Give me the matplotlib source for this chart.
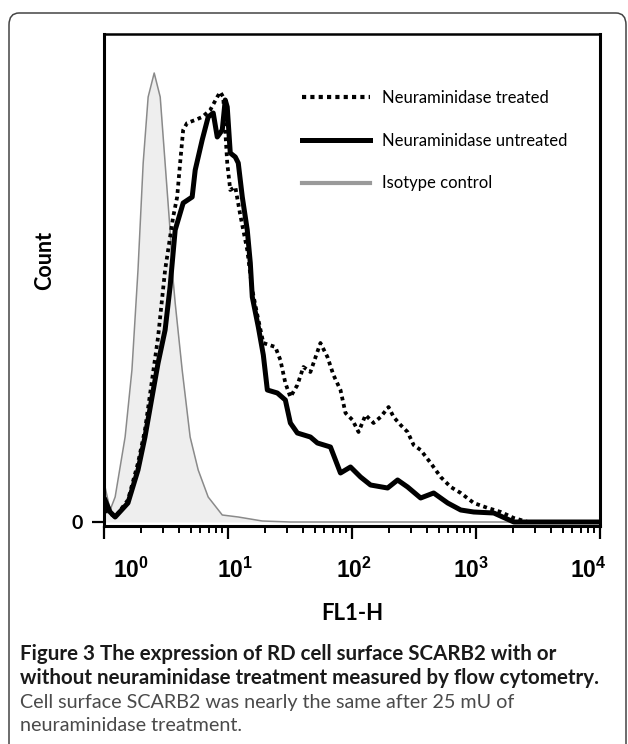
import matplotlib

matplotlib.use("Agg")
import matplotlib.pyplot as plt
import matplotlib.transforms as mtransforms
from matplotlib.lines import Line2D
from matplotlib.patches import FancyBboxPatch

# FL1-H channel values and event counts
iso_fl1 = [1.02, 1.12, 1.23, 1.48, 1.68, 1.88, 2.07, 2.27, 2.54, 2.84, 3.11, 3.41,
           3.61, 3.75, 4.27, 4.95, 5.75, 6.92, 8.99, 12.1, 18.9, 31.8, 10000]
iso_count = [35, 12, 25, 85, 152, 252, 359, 425, 449, 425, 359, 292,
             242, 219, 152, 85, 52, 25, 7, 5, 1, 0, 0]

untreated_fl1 = [1.02, 1.12, 1.23, 1.56, 1.88, 2.14, 2.44, 2.73, 3.11, 3.41,
                 3.75, 4.35, 5.14, 5.44, 6.19, 6.92, 7.60, 8.19, 8.99, 9.50,
                 9.86, 10.43, 11.45, 12.10, 13.04, 14.30, 15.13, 15.70, 17.56, 19.27,
                 20.76, 25.00, 29.01, 31.84, 36.27, 46.20, 52.62, 67.03, 80.74, 97.25,
                 117.2, 141.1, 193.6, 233.2, 280.8, 357.7, 455.6, 591.1, 753.2, 959.0,
                 1391, 2019, 2930, 10000]
untreated_count = [22, 10, 5, 19, 52, 85, 125, 159, 192, 235,
                   292, 319, 325, 352, 382, 405, 409, 385, 392, 422,
                   415, 369, 365, 359, 325, 292, 259, 225, 195, 167,
                   132, 129, 122, 99, 89, 85, 79, 75, 49, 55,
                   45, 37, 34, 42, 35, 24, 29, 19, 12, 10,
                   9, 0, 0, 0]

treated_fl1 = [1.02, 1.23, 1.56, 1.88, 2.14, 2.44, 2.73, 3.11, 3.61, 3.89,
               4.11, 4.35, 4.68, 5.44, 6.19, 7.19, 8.19, 8.66, 9.15, 9.50,
               9.86, 10.43, 11.45, 12.56, 14.30, 15.70, 17.24, 19.27, 24.09, 26.44,
               29.01, 31.84, 36.27, 40.56, 46.20, 55.65, 63.39, 70.87, 80.74, 88.62,
               100.9, 112.9, 128.6, 149.2, 170.0, 197.2, 216.5, 246.6, 280.8, 314.1,
               357.7, 430.9, 519.0, 625.2, 753.2, 959.0, 1244, 1585, 2019, 2620,
               10000]
treated_count = [12, 5, 22, 59, 92, 142, 185, 252, 305, 325,
                 359, 392, 399, 402, 405, 412, 425, 430, 425, 392,
                 359, 332, 335, 307, 272, 232, 207, 179, 175, 162,
                 139, 125, 137, 155, 150, 179, 165, 147, 132, 109,
                 102, 90, 107, 99, 105, 115, 105, 97, 90, 77,
                 72, 59, 45, 35, 29, 19, 14, 10, 4, 0,
                 0]

legend_labels = ["Neuraminidase treated", "Neuraminidase untreated", "Isotype control"]
xtick_vals = [1, 10, 100, 1000, 10000]
xtick_labels = [r"$\mathbf{10^{0}}$", r"$\mathbf{10^{1}}$", r"$\mathbf{10^{2}}$",
                r"$\mathbf{10^{3}}$", r"$\mathbf{10^{4}}$"]
xtick_shift_px = [27, 7, 2, -5, -12]

caption_title = ["Figure 3 The expression of RD cell surface SCARB2 with or",
                 "without neuraminidase treatment measured by flow cytometry."]
caption_body = ["Cell surface SCARB2 was nearly the same after 25 mU of",
                "neuraminidase treatment."]

W, H = 628, 744
plt.rcParams["font.family"] = ["Lato", "DejaVu Sans"]
plt.rcParams["mathtext.fontset"] = "custom"
plt.rcParams["mathtext.bf"] = "Liberation Sans:bold"
plt.rcParams["mathtext.rm"] = "Liberation Sans"

fig = plt.figure(figsize=(W / 100, H / 100), dpi=100)

# rounded outer frame (runs off the right and bottom edges)
frame = FancyBboxPatch((9 / W, -0.05), (626 - 9) / W, (H - 13) / H + 0.05,
                       boxstyle="round,pad=0,rounding_size=0.016",
                       transform=fig.transFigure, fill=False,
                       edgecolor="#444444", linewidth=1.1)
fig.patches.append(frame)

ax = fig.add_axes([104 / W, (H - 526) / H, 496 / W, 492 / H])
ax.set_xscale("log")
ax.set_xlim(1, 10000)
ax.set_ylim(-4, 488)

ax.fill_between(iso_fl1, iso_count, 0, color="#eeeeee", linewidth=0, zorder=1)
ax.plot(iso_fl1, iso_count, color="#8a8a8a", lw=1.1, zorder=2)
ax.plot(untreated_fl1, untreated_count, color="black", lw=3.6, zorder=3,
        solid_joinstyle="round")
ax.plot(treated_fl1, treated_count, color="black", lw=2.7, ls=(0, (1, 1)),
        zorder=4)

for side in ["left", "bottom", "top", "right"]:
    ax.spines[side].set_linewidth(2.2)
ax.spines["top"].set_linewidth(1.8)

ax.set_xticks(xtick_vals)
ax.set_xticklabels(xtick_labels, fontsize=16.5)
ax.tick_params(axis="x", which="major", length=9, width=1.6, pad=13)
ax.tick_params(axis="x", which="minor", length=5, width=1.4)
for lab, dx in zip(ax.get_xticklabels(), xtick_shift_px):
    lab.set_transform(lab.get_transform() +
                      mtransforms.ScaledTranslation(dx / 100, 0, fig.dpi_scale_trans))

ax.set_yticks([0])
ax.set_yticklabels(["0"], fontsize=14, fontweight="bold")
ax.tick_params(axis="y", length=9, width=1.6, pad=6)

ax.set_xlabel("FL1-H", fontsize=16, fontweight="bold", labelpad=15)
ax.set_ylabel("Count", fontsize=15.5, fontweight="bold")
ax.yaxis.set_label_coords(-49 / 496, (526 - 260) / 492)

handles = [Line2D([], [], color="black", lw=3.0, ls=(0, (1, 1))),
           Line2D([], [], color="black", lw=3.6),
           Line2D([], [], color="#9a9a9a", lw=3.0)]
ax.legend(handles, legend_labels, loc="upper left",
          bbox_to_anchor=((302 - 104) / 496, (526 - 90) / 492),
          frameon=False, fontsize=12, handlelength=4.1, handletextpad=0.7,
          labelspacing=1.6, borderaxespad=0, borderpad=0)

for i, line in enumerate(caption_title):
    fig.text(20 / W, (H - 660 - 23.5 * i) / H, line, fontsize=14.8,
             fontweight="bold", color="#1a1a1a", va="baseline")
for i, line in enumerate(caption_body):
    fig.text(20 / W, (H - 708 - 23 * i) / H, line, fontsize=14.2,
             color="#4a4a4a", va="baseline")

fig.savefig("out.png", dpi=100)
